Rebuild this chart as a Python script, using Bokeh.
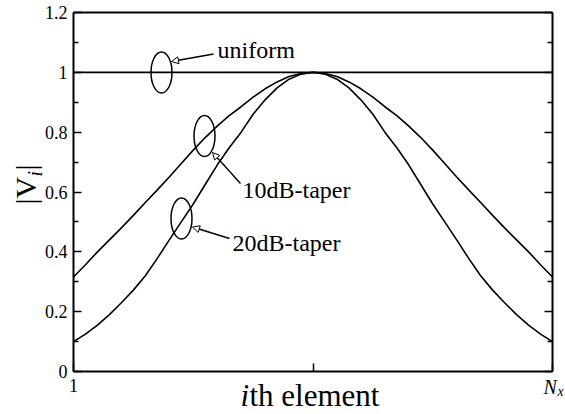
from bokeh.plotting import figure
from bokeh.models import Label, Arrow, NormalHead, LinearAxis, FixedTicker, NumeralTickFormatter, Range1d
from bokeh.embed import file_html
from bokeh.resources import INLINE
import math

# ---- data ----
element = list(range(1, 42))
uniform_x = [1, 41]
uniform = [1.0, 1.0]
taper10 = [0.316, 0.357, 0.40, 0.44, 0.48, 0.522, 0.565, 0.607, 0.65, 0.695, 0.74,
           0.782, 0.82, 0.855, 0.885, 0.917, 0.945, 0.968, 0.986, 0.996, 1.0,
           0.996, 0.986, 0.968, 0.945, 0.917, 0.885, 0.855, 0.82, 0.782, 0.74,
           0.695, 0.65, 0.607, 0.565, 0.522, 0.48, 0.44, 0.40, 0.357, 0.316]
taper20 = [0.10, 0.125, 0.155, 0.19, 0.23, 0.272, 0.32, 0.378, 0.44, 0.50, 0.56,
           0.625, 0.69, 0.748, 0.80, 0.86, 0.908, 0.948, 0.977, 0.994, 1.0,
           0.994, 0.977, 0.948, 0.908, 0.86, 0.80, 0.748, 0.69, 0.625, 0.56,
           0.50, 0.44, 0.378, 0.32, 0.272, 0.23, 0.19, 0.155, 0.125, 0.10]
x_ticks = [1, 21, 41]
y_ticks = [0, 0.2, 0.4, 0.6, 0.8, 1.0, 1.2]
y_minor = [0.1, 0.3, 0.5, 0.7, 0.9, 1.1]
series_names = ["uniform", "10dB-taper", "20dB-taper"]

FONT = "Liberation Serif"
W, H = 565, 414
# pixel box of the plotting area
L, R, T, B = 73, 552, 12, 371
X0, X1, Y0, Y1 = 1, 41, 0.0, 1.2
kx = (X1 - X0) / (R - L)
ky = (Y1 - Y0) / (B - T)

p = figure(width=W, height=H,
           x_range=Range1d(X0 - L * kx, X0 + (W - L) * kx),
           y_range=Range1d(Y0 - (H - B) * ky, Y0 + B * ky),
           x_axis_type=None, y_axis_type=None,
           output_backend="svg", toolbar_location=None,
           min_border=0)
p.background_fill_color = "white"
p.border_fill_color = "white"
p.outline_line_color = None
p.grid.grid_line_color = None


def style_axis(ax):
    ax.axis_line_width = 2
    ax.axis_line_color = "black"
    ax.major_tick_line_width = 1.5
    ax.minor_tick_line_width = 1.5
    ax.major_tick_out = 0
    ax.minor_tick_out = 0
    ax.major_label_text_font = FONT
    ax.major_label_text_font_size = "18px"
    ax.major_label_text_color = "black"
    ax.major_label_standoff = 6


# bottom axis
xb = LinearAxis(fixed_location=Y0, bounds=(X0, X1),
                ticker=FixedTicker(ticks=x_ticks, minor_ticks=[]),
                major_label_overrides={1: "1", 21: "", 41: ""})
style_axis(xb)
xb.major_tick_in = 8
xb.minor_tick_in = 0
xb.major_label_standoff = 7
p.add_layout(xb, "below")

# top axis (frame line only)
xt = LinearAxis(fixed_location=Y1, bounds=(X0, X1),
                ticker=FixedTicker(ticks=[], minor_ticks=[]))
style_axis(xt)
xt.major_tick_in = 0
xt.minor_tick_in = 0
p.add_layout(xt, "above")

# left axis
yl = LinearAxis(fixed_location=X0, bounds=(Y0, Y1),
                ticker=FixedTicker(ticks=y_ticks, minor_ticks=y_minor),
                formatter=NumeralTickFormatter(format="0.[0]"))
style_axis(yl)
yl.major_tick_in = 8
yl.minor_tick_in = 5
p.add_layout(yl, "left")

# right axis (ticks only)
yr = LinearAxis(fixed_location=X1, bounds=(Y0, Y1),
                ticker=FixedTicker(ticks=y_ticks, minor_ticks=y_minor),
                major_label_overrides={0: "", 0.2: "", 0.4: "", 0.6: "", 0.8: "", 1.0: "", 1.2: ""})
style_axis(yr)
yr.major_tick_in = 8
yr.minor_tick_in = 5
p.add_layout(yr, "right")

# curves
p.line(uniform_x, uniform, line_color="black", line_width=1.6)
p.line(element, taper10, line_color="black", line_width=1.6)
p.line(element, taper20, line_color="black", line_width=1.6)


def dx(px):
    return X0 + (px - L) * kx


def dy(py):
    return Y0 + (B - py) * ky


# ellipses marking the curves (pixel centres from the picture)
ell_px = [(161, 72), (204, 135.5), (181, 218)]
p.ellipse(x=[dx(a) for a, b in ell_px], y=[dy(b) for a, b in ell_px],
          width=21, height=41, width_units="screen", height_units="screen",
          fill_color=None, line_color="black", line_width=1.5)

# arrows
arrows = [((213, 53.5), (171, 61)),
          ((240, 183), (212, 152)),
          ((229, 238), (192, 226.5))]
for (xs, ys), (xe, ye) in arrows:
    p.add_layout(Arrow(end=NormalHead(size=7, fill_color="white", line_color="black", line_width=1),
                       x_start=dx(xs), y_start=dy(ys), x_end=dx(xe), y_end=dy(ye),
                       line_color="black", line_width=1.4))


def lab(text, px, py, size, style="normal", rotated=False):
    # (px, py): wanted baseline start in picture pixels; Bokeh draws the glyphs
    # about 0.3 em lower than the anchor, so compensate for that
    shift = 0.3 * size
    if rotated:
        xo, yo, ang = px - L - shift, B - py, math.pi / 2
    else:
        xo, yo, ang = px - L, B - py + shift, 0.0
    p.add_layout(Label(x=X0, y=Y0, x_offset=xo, y_offset=yo, text=text,
                       text_font=FONT, text_font_size=f"{size}px", text_font_style=style,
                       text_color="black", text_align="left", text_baseline="alphabetic",
                       angle=ang))


# series labels
for name, (tx, ty) in zip(series_names, [(217, 56.5), (242, 197), (232, 250)]):
    lab(name, tx, ty, 24)

# x axis title "ith element"
lab("i", 240, 404, 31, "italic")
lab("th element", 249, 404, 31)
# N_x tick label
lab("N", 543, 392, 20, "italic")
lab("x", 557, 395, 14, "italic")
# y axis title |V_i|
lab("|V", 34, 204, 30, rotated=True)
lab("i", 40, 176, 20, "italic", rotated=True)
lab("|", 34, 170, 30, rotated=True)

open("out.html", "w").write(file_html(p, INLINE))
